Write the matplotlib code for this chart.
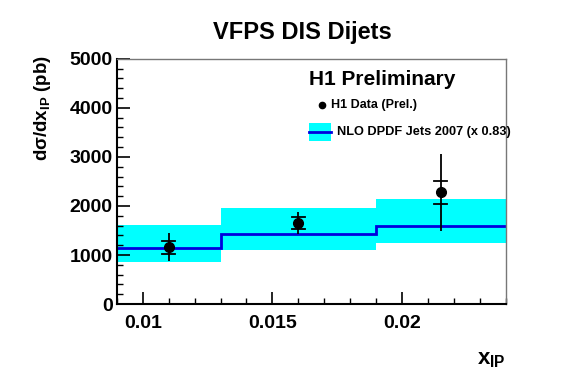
import numpy as np
import matplotlib
matplotlib.use("Agg")
import matplotlib.pyplot as plt
from matplotlib.patches import Rectangle
from matplotlib.lines import Line2D
from matplotlib.ticker import MultipleLocator

plt.rcParams['font.family'] = ['Liberation Sans', 'DejaVu Sans']
plt.rcParams['mathtext.fontset'] = 'custom'
plt.rcParams['mathtext.rm'] = 'Liberation Sans:bold'
plt.rcParams['mathtext.it'] = 'Liberation Sans:bold'
plt.rcParams['mathtext.bf'] = 'Liberation Sans:bold'

# NLO prediction bins
bin_edges = [0.009, 0.013, 0.019, 0.024]
nlo_values = [1140, 1430, 1590]
nlo_band_low = [855, 1100, 1255]
nlo_band_high = [1610, 1960, 2150]

# H1 data points
data_x = [0.011, 0.016, 0.0215]
data_y = [1160, 1660, 2275]
stat_low = [1030, 1525, 2050]
stat_high = [1290, 1785, 2500]
tot_low = [880, 1420, 1490]
tot_high = [1450, 1885, 3050]

fig = plt.figure(figsize=(5.67, 3.84), dpi=100)
ax = fig.add_axes([0.206, 0.208, 0.686, 0.639])

# uncertainty band
for i in range(len(nlo_values)):
    ax.fill_between([bin_edges[i], bin_edges[i + 1]], nlo_band_low[i], nlo_band_high[i],
                    color='#00ffff', lw=0, zorder=1)

ax.stairs(nlo_values, bin_edges, baseline=None, color='#0000dd', lw=2, zorder=2)

# data with errors
ax.vlines(data_x, tot_low, tot_high, color='black', lw=1.3, zorder=3)
for i in range(len(data_x)):
    for yv in (stat_low[i], stat_high[i]):
        ax.plot([data_x[i] - 0.00025, data_x[i] + 0.00025], [yv, yv], color='black', lw=1.3, zorder=3)
ax.plot(data_x, data_y, 'o', color='black', ms=7, zorder=4)

ax.set_xlim(0.009, 0.024)
ax.set_ylim(0, 5000)
ax.xaxis.set_major_locator(MultipleLocator(0.005))
ax.xaxis.set_minor_locator(MultipleLocator(0.001))
ax.yaxis.set_major_locator(MultipleLocator(1000))
ax.yaxis.set_minor_locator(MultipleLocator(200))
ax.set_xticks([0.01, 0.015, 0.02])
ax.set_xticklabels(['0.01', '0.015', '0.02'])
ax.tick_params(axis='both', which='both', direction='in', top=False, right=False)
ax.tick_params(axis='both', which='major', length=9, width=1.2, labelsize=14)
ax.tick_params(axis='both', which='minor', length=4.5, width=1.0)
ax.tick_params(axis='x', pad=8)
ax.tick_params(axis='y', pad=3)
for lab in ax.get_xticklabels() + ax.get_yticklabels():
    lab.set_fontweight('bold')

ax.spines['left'].set_linewidth(1.5)
ax.spines['bottom'].set_linewidth(1.5)
ax.spines['top'].set_color('#777777')
ax.spines['right'].set_color('#777777')
ax.spines['top'].set_linewidth(1)
ax.spines['right'].set_linewidth(1)

fig.text(0.533, 0.915, 'VFPS DIS Dijets', ha='center', va='center', fontsize=17, fontweight='bold')
fig.text(0.075, 0.72, r'd$\sigma$/dx$_{\mathregular{IP}}$ (pb)', rotation=90, ha='center', va='center',
         fontsize=13.5, fontweight='bold')
fig.text(0.866, 0.065, r'x$_{\mathregular{IP}}$', ha='center', va='center', fontsize=16, fontweight='bold')

# legend
fig.text(0.545, 0.792, 'H1 Preliminary', ha='left', va='center', fontsize=15, fontweight='bold')
fig.add_artist(Line2D([0.568], [0.727], marker='o', color='black', ms=4.5, transform=fig.transFigure))
fig.text(0.584, 0.727, 'H1 Data (Prel.)', ha='left', va='center', fontsize=9, fontweight='bold')
fig.add_artist(Rectangle((0.545, 0.633), 0.039, 0.047, transform=fig.transFigure,
                         facecolor='#00ffff', edgecolor='none'))
fig.add_artist(Line2D([0.545, 0.584], [0.657, 0.657], color='#0000dd', lw=2, transform=fig.transFigure))
fig.text(0.594, 0.657, 'NLO DPDF Jets 2007 (x 0.83)', ha='left', va='center', fontsize=9.2, fontweight='bold')

fig.savefig('out.png', dpi=100)
